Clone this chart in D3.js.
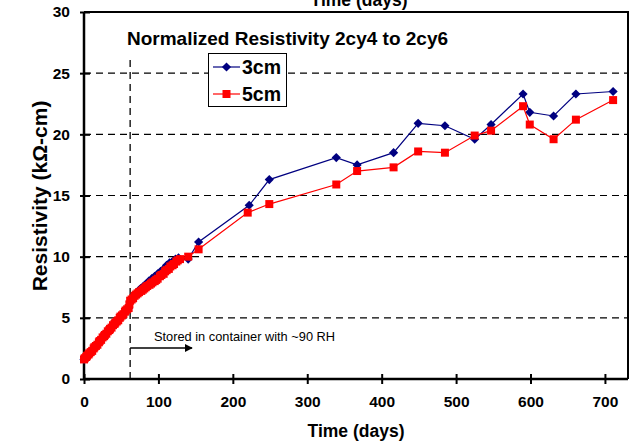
<!DOCTYPE html>
<html>
<head>
<meta charset="utf-8">
<script src="https://cdn.jsdelivr.net/npm/d3@7"></script>
<style>
  html, body { margin: 0; padding: 0; background: #fff; }
  svg { display: block; font-family: "Liberation Sans", Arial, sans-serif; }
</style>
</head>
<body>
<svg id="chart" width="643" height="442"></svg>
<script>
// Normalized resistivity readings, 2cy4 to 2cy6
const days3cm = [0, 2, 5, 8, 12, 15, 19, 22, 26, 29, 33, 36, 40, 43, 47, 50, 54, 57, 60, 62,
  65, 69, 73, 76, 80, 84, 87, 91, 95, 99, 103, 107, 111, 115, 119, 123, 127, 140, 154,
  222, 249, 339, 367, 416, 449, 485, 525, 547, 590, 599, 631, 661, 711];
const res3cm = [1.6, 1.7, 1.9, 2.1, 2.4, 2.6, 2.9, 3.1, 3.4, 3.6, 3.9, 4.1, 4.4, 4.6, 4.9, 5.1, 5.4, 5.6, 5.8, 6.3,
  6.6, 6.9, 7.2, 7.4, 7.6, 7.8, 8.0, 8.2, 8.4, 8.6, 8.8, 9.0, 9.3, 9.5, 9.6, 9.8, 9.9, 9.8, 11.2,
  14.2, 16.3, 18.1, 17.5, 18.5, 20.9, 20.7, 19.6, 20.8, 23.3, 21.8, 21.5, 23.3, 23.5];

const days5cm = [0, 1, 3, 4, 6, 7, 9, 11, 13, 14, 16, 18, 20, 21, 23, 25, 27, 28, 30, 32,
  34, 35, 37, 39, 41, 42, 44, 46, 48, 49, 51, 53, 55, 56, 58, 60, 61, 62, 64, 66,
  68, 70, 72, 74, 77, 79, 81, 83, 85, 88, 90, 92, 95, 97, 99, 102, 104, 107, 109, 111,
  114, 116, 119, 121, 124, 126, 129, 140, 154, 220, 249, 339, 367, 416, 449, 485, 525,
  547, 590, 599, 631, 661, 711];
const res5cm = [1.6, 1.7, 1.8, 1.9, 2.0, 2.1, 2.2, 2.3, 2.5, 2.6, 2.7, 2.8, 3.0, 3.1, 3.2, 3.4, 3.5, 3.6, 3.7, 3.9,
  4.0, 4.1, 4.2, 4.4, 4.5, 4.6, 4.7, 4.8, 5.0, 5.1, 5.2, 5.3, 5.5, 5.6, 5.7, 5.8, 6.1, 6.4, 6.5, 6.6,
  6.8, 6.9, 7.0, 7.1, 7.2, 7.3, 7.4, 7.5, 7.6, 7.7, 7.8, 7.9, 8.0, 8.1, 8.2, 8.4, 8.5, 8.6, 8.8, 8.9,
  9.0, 9.2, 9.3, 9.4, 9.6, 9.7, 9.8, 10.0, 10.6, 13.6, 14.3, 15.9, 17.0, 17.3, 18.6, 18.5, 19.9,
  20.3, 22.3, 20.8, 19.6, 21.2, 22.8];

const xTicks = [0, 100, 200, 300, 400, 500, 600, 700];
const yTicks = [0, 5, 10, 15, 20, 25, 30];
const storageDay = 62;   // day the samples went into the ~90% RH container

const svg = d3.select("#chart");
const plotL = 84, plotR = 628, plotT = 12, plotB = 379;

const x = d3.scaleLinear().domain([0, 731]).range([plotL, plotR]);
const y = d3.scaleLinear().domain([0, 30]).range([plotB, plotT]);

// Horizontal dashed gridlines
svg.append("g")
  .selectAll("line")
  .data(yTicks.filter(v => v > 0 && v < 30))
  .join("line")
  .attr("x1", plotL).attr("x2", plotR)
  .attr("y1", d => y(d)).attr("y2", d => y(d))
  .attr("stroke", "#000").attr("stroke-width", 1.2)
  .attr("stroke-dasharray", "7,5");

// Vertical dashed marker for the storage date
svg.append("line")
  .attr("x1", x(storageDay)).attr("x2", x(storageDay))
  .attr("y1", 60).attr("y2", plotB)
  .attr("stroke", "#000").attr("stroke-width", 1.3)
  .attr("stroke-dasharray", "7,5");

// Plot frame (top and right)
svg.append("path")
  .attr("d", `M${plotL},${plotT}H${plotR}V${plotB}`)
  .attr("fill", "none").attr("stroke", "#000").attr("stroke-width", 2);

// Axes
const xAxis = d3.axisBottom(x).tickValues(xTicks).tickSize(5).tickPadding(12).tickFormat(d3.format("d"));
const gx = svg.append("g").attr("transform", `translate(0,${plotB})`).call(xAxis);
gx.select(".domain").attr("d", `M${plotL},0H${plotR}`).attr("stroke-width", 2.5);
gx.selectAll(".tick line").attr("y1", -5).attr("y2", 5).attr("stroke-width", 2);
gx.selectAll(".tick text").attr("font-size", 15.5).attr("font-weight", "bold")
  .attr("font-family", "Liberation Sans, Arial, sans-serif").attr("fill", "#000");

const yAxis = d3.axisLeft(y).tickValues(yTicks).tickSize(4).tickPadding(10);
const gy = svg.append("g").attr("transform", `translate(${plotL},0)`).call(yAxis);
gy.select(".domain").attr("d", `M0,${plotT}V${plotB}`).attr("stroke-width", 2.5);
gy.selectAll(".tick line").attr("x1", -4).attr("x2", 6).attr("stroke-width", 2);
gy.selectAll(".tick text").attr("font-size", 15.5).attr("font-weight", "bold")
  .attr("font-family", "Liberation Sans, Arial, sans-serif").attr("fill", "#000");

// Series: navy diamonds (a square turned 45°) and red squares
const series = [
  { name: "3cm", days: days3cm, vals: res3cm, color: "#000080", size: 42, turn: 45 },
  { name: "5cm", days: days5cm, vals: res5cm, color: "#FF0000", size: 64, turn: 0 }
];

const line = d3.line().x(d => x(d[0])).y(d => y(d[1]));

series.forEach(s => {
  const pts = s.days.map((d, i) => [d, s.vals[i]]);
  svg.append("path")
    .datum(pts)
    .attr("d", line)
    .attr("fill", "none")
    .attr("stroke", s.color)
    .attr("stroke-width", 1.2);
  svg.append("g")
    .selectAll("path")
    .data(pts)
    .join("path")
    .attr("transform", d => `translate(${x(d[0])},${y(d[1])}) rotate(${s.turn})`)
    .attr("d", d3.symbol().type(d3.symbolSquare).size(s.size))
    .attr("fill", s.color);
});

// Chart title
svg.append("text")
  .attr("x", 127).attr("y", 45)
  .attr("font-size", 19).attr("font-weight", "bold")
  .text("Normalized Resistivity 2cy4 to 2cy6");

// Legend
const lg = svg.append("g");
lg.append("rect")
  .attr("x", 208.5).attr("y", 53.5).attr("width", 78).attr("height", 53)
  .attr("fill", "#fff").attr("stroke", "#000").attr("stroke-width", 1);
series.forEach((s, i) => {
  const cy = 67 + i * 27;
  lg.append("line")
    .attr("x1", 213).attr("x2", 240).attr("y1", cy).attr("y2", cy)
    .attr("stroke", s.color).attr("stroke-width", 1.2);
  lg.append("path")
    .attr("transform", `translate(226.5,${cy}) rotate(${s.turn})`)
    .attr("d", d3.symbol().type(d3.symbolSquare).size(s.size))
    .attr("fill", s.color);
  lg.append("text")
    .attr("x", 242).attr("y", cy + 7)
    .attr("font-size", 19.5).attr("font-weight", "bold")
    .text(s.name);
});

// Storage annotation
svg.append("text")
  .attr("x", 154).attr("y", 341)
  .attr("font-size", 12.8)
  .text("Stored in container with ~90 RH");
svg.append("defs").append("marker")
  .attr("id", "arrow").attr("viewBox", "0 0 10 10")
  .attr("refX", 9).attr("refY", 5)
  .attr("markerWidth", 8).attr("markerHeight", 8)
  .attr("markerUnits", "userSpaceOnUse")
  .attr("orient", "auto")
  .append("path").attr("d", "M0,0L10,5L0,10Z").attr("fill", "#000");
svg.append("line")
  .attr("x1", x(storageDay)).attr("x2", 192)
  .attr("y1", 348).attr("y2", 348)
  .attr("stroke", "#000").attr("stroke-width", 1.4)
  .attr("marker-end", "url(#arrow)");

// Axis titles
svg.append("text")
  .attr("x", 356).attr("y", 437)
  .attr("text-anchor", "middle")
  .attr("font-size", 17.5).attr("font-weight", "bold")
  .text("Time (days)");
svg.append("text")
  .attr("x", 359).attr("y", 6)
  .attr("text-anchor", "middle")
  .attr("font-size", 17.5).attr("font-weight", "bold")
  .text("Time (days)");
svg.append("text")
  .attr("transform", "translate(47,196) rotate(-90)")
  .attr("text-anchor", "middle")
  .attr("font-size", 21).attr("font-weight", "bold")
  .text("Resistivity (kΩ-cm)");
</script>
</body>
</html>
